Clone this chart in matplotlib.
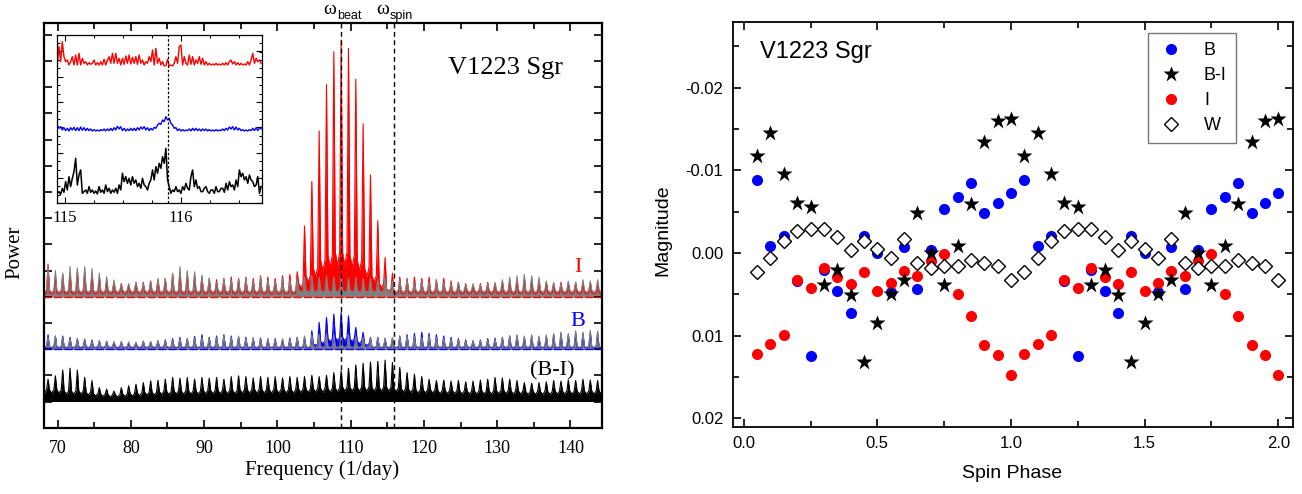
import numpy as np
import matplotlib
matplotlib.use('Agg')
import matplotlib.pyplot as plt
from matplotlib.ticker import MultipleLocator
from matplotlib.lines import Line2D

# ======================= DATA =======================
# --- left panel: periodograms (alias comb, one tooth per 1/day) ---
omega_beat = 108.7
omega_spin = 115.85
comb_freq = np.arange(68.7, 145.0, 1.0)          # alias tooth positions (77)

# I band: comparison (gray) and V1223 Sgr (red) tooth heights
I_gray = [1.2, 1.0, 0.9, 1.15, 1.1, 1.15, 1.08, 0.9, 0.76, 0.64, 0.5, 0.5, 0.57, 0.5, 0.57, 0.7, 0.7, 0.9, 1.15, 1.0, 0.95, 0.83, 0.7, 0.57, 0.64, 0.64, 0.68,
          0.7, 0.6, 0.75, 0.65, 0.6, 0.7, 0.65, 0.7, 0.75, 0.8, 0.75, 0.8, 0.75, 0.8, 0.7, 0.75, 0.7, 0.7, 0.65, 0.7, 0.6, 0.65, 0.65,
          0.55, 0.6, 0.55, 0.6, 0.55, 0.5, 0.55, 0.45, 0.5, 0.45, 0.5, 0.55, 0.65, 0.75, 0.8, 0.85, 0.8, 0.75, 0.6, 0.55, 0.5, 0.6, 0.55, 0.65, 0.6, 0.65, 0.7]
I_red = [1.25, 0.8, 0.85, 0.9, 1.0, 0.95, 0.9, 0.75, 0.6, 0.55, 0.5, 0.45, 0.5, 0.55, 0.6, 0.65, 0.7, 0.85, 0.9, 0.85, 0.8, 0.75, 0.7, 0.65, 0.7, 0.75, 0.7,
         0.75, 0.7, 0.8, 0.75, 0.7, 0.8, 0.85, 0.95, 2.7, 4.4, 6.33, 8.1, 9.35, 9.8, 9.48, 8.3, 6.6, 4.65, 2.9, 1.5, 0.9, 0.75, 0.7,
         0.75, 0.7, 0.75, 0.65, 0.7, 0.6, 0.55, 0.5, 0.45, 0.5, 0.55, 0.5, 0.55, 0.6, 0.65, 0.7, 0.65, 0.6, 0.55, 0.5, 0.55, 0.5, 0.55, 0.5, 0.55, 0.5, 0.55]
I_gray_floor = [0.25] * 77
I_red_floor = [0.15] * 34 + [0.5, 0.8, 1.1, 1.4, 1.6, 1.7, 1.7, 1.6, 1.4, 1.1, 0.8, 0.5, 0.3] + [0.15] * 30

# B band
B_gray = [0.45, 0.5, 0.45, 0.4, 0.38, 0.35, 0.3, 0.3, 0.28, 0.3, 0.25, 0.28, 0.25, 0.3, 0.28, 0.3, 0.32, 0.35, 0.4, 0.38, 0.42, 0.45, 0.4, 0.45, 0.5, 0.45, 0.5,
          0.4, 0.45, 0.38, 0.42, 0.35, 0.4, 0.38, 0.45, 0.5, 0.55, 0.57, 0.6, 0.57, 0.6, 0.55, 0.5, 0.45, 0.42, 0.45, 0.42, 0.45, 0.48, 0.5,
          0.5, 0.45, 0.5, 0.45, 0.42, 0.38, 0.35, 0.3, 0.3, 0.32, 0.35, 0.38, 0.45, 0.5, 0.55, 0.5, 0.55, 0.5, 0.55, 0.6, 0.65, 0.6, 0.7, 0.65, 0.72, 0.7, 0.76]
B_blue = [0.55, 0.5, 0.5, 0.45, 0.4, 0.38, 0.35, 0.32, 0.3, 0.25, 0.28, 0.22, 0.25, 0.3, 0.28, 0.32, 0.35, 0.4, 0.45, 0.4, 0.48, 0.55, 0.45, 0.5, 0.55, 0.5, 0.45,
          0.45, 0.4, 0.42, 0.38, 0.4, 0.35, 0.42, 0.45, 0.45, 0.7, 1.02, 1.21, 1.34, 1.4, 1.27, 0.83, 0.64, 0.45, 0.45, 0.4, 0.42, 0.5, 0.55,
          0.6, 0.64, 0.6, 0.55, 0.5, 0.45, 0.4, 0.35, 0.32, 0.35, 0.4, 0.42, 0.45, 0.5, 0.5, 0.45, 0.5, 0.45, 0.5, 0.55, 0.6, 0.55, 0.6, 0.6, 0.65, 0.6, 0.7]
B_gray_floor = [0.1] * 77
B_blue_floor = [0.08] * 36 + [0.2, 0.3, 0.4, 0.45, 0.45, 0.4, 0.3, 0.2] + [0.08] * 33

# B-I colour periodogram
BI_black = [0.85, 0.98, 1.2, 1.27, 1.2, 0.92, 0.8, 0.53, 0.47, 0.4, 0.53, 0.6, 0.66, 0.72, 0.79, 0.81, 0.85, 0.92, 0.89, 0.92, 0.85, 0.92, 0.89, 0.92, 0.85, 0.95, 0.98,
            0.95, 0.9, 0.95, 0.92, 0.95, 0.9, 0.95, 0.92, 0.95, 1.0, 0.95, 1.0, 1.1, 1.17, 1.27, 1.39, 1.46, 1.51, 1.53, 1.58, 1.49, 1.3, 1.1,
            1.04, 0.95, 0.85, 0.8, 0.82, 0.78, 0.8, 0.75, 0.78, 0.82, 0.85, 0.92, 0.9, 0.85, 0.8, 0.72, 0.7, 0.72, 0.75, 0.8, 0.78, 0.82, 0.8, 0.85, 0.82, 0.8, 0.85]
BI_floor = [0.45, 0.45, 0.4, 0.4, 0.4, 0.35, 0.3, 0.28, 0.25, 0.25, 0.28, 0.3, 0.32, 0.35, 0.35, 0.38, 0.38, 0.4, 0.4, 0.4, 0.4, 0.42, 0.42, 0.42, 0.42, 0.42, 0.45,
            0.45, 0.45, 0.45, 0.45, 0.45, 0.45, 0.45, 0.48, 0.48, 0.5, 0.5, 0.5, 0.52, 0.55, 0.55, 0.55, 0.55, 0.55, 0.55, 0.55, 0.52, 0.5, 0.48,
            0.45, 0.45, 0.45, 0.42, 0.42, 0.42, 0.4, 0.4, 0.4, 0.4, 0.4, 0.42, 0.42, 0.4, 0.4, 0.38, 0.38, 0.38, 0.38, 0.4, 0.4, 0.4, 0.4, 0.4, 0.4, 0.4, 0.4]

# vertical offsets of the three stacked periodograms
offset_I, offset_B, offset_BI = 5.0, 3.0, 1.0

# --- inset: zoom on 115-116.7 1/day ---
inset_f0, inset_f1 = 114.934, 116.692
inset_spin = 115.885
inset_I = [5, 60, 15, 75, 30, 15, 20, 5, 15, 30, 5, 35, 5, 40, 5, 25, 10, 15, 5, 12, 7, 10, 20, 5, 12, 5, 15, 5, 22, 5,
           20, 30, 10, 40, 10, 40, 10, 25, 5, 25, 7, 32, 10, 35, 8, 28, 10, 30, 7, 35, 10, 20, 5, 15, 10, 30, 15, 50, 5, 55,
           10, 25, 5, 15, 2, 3, 22, 2, 5, 2, 10, 30, 10, 60, 65, 5, 30, 10, 5, 35, 7, 30, 5, 20, 10, 30, 7, 25, 5, 15,
           5, 10, 5, 8, 5, 10, 5, 8, 5, 10, 5, 12, 5, 15, 20, 8, 15, 5, 12, 5, 10, 5, 8, 5, 15, 5, 20, 40, 10, 25,
           15, 20, 10]
inset_B = [20, 10, 15, 5, 12, 3, 10, 2, 12, 5, 13, 3, 12, 3, 14, 4, 12, 3, 10, 3, 8, 2, 6, 2, 5, 2, 6, 3, 8, 2,
           8, 3, 10, 3, 12, 5, 16, 8, 15, 3, 10, 2, 8, 3, 10, 3, 10, 3, 12, 5, 14, 8, 15, 5, 12, 3, 10, 5, 13, 10,
           20, 25, 22, 35, 30, 45, 35, 40, 25, 20, 10, 12, 3, 8, 2, 6, 2, 5, 3, 8, 2, 10, 3, 10, 3, 8, 2, 8, 3, 8,
           2, 6, 2, 5, 2, 6, 2, 5, 3, 8, 3, 10, 5, 14, 8, 15, 5, 14, 5, 10, 3, 6, 2, 5, 2, 6, 3, 10, 3, 12,
           3, 12, 8]
inset_BI = [5, 10, 2, 20, 8, 40, 15, 55, 25, 50, 70, 110, 30, 60, 75, 5, 10, 15, 5, 25, 8, 15, 5, 12, 3, 25, 8, 15, 5, 30,
            10, 20, 5, 15, 8, 20, 5, 30, 15, 65, 40, 55, 35, 50, 30, 55, 35, 45, 25, 35, 20, 50, 30, 25, 15, 35, 45, 75, 45, 85,
            65, 95, 80, 115, 95, 140, 45, 25, 5, 15, 10, 25, 10, 15, 5, 25, 15, 35, 20, 15, 55, 75, 25, 45, 20, 25, 10, 10, 20, 25,
            10, 5, 15, 15, 5, 25, 10, 10, 20, 20, 8, 35, 15, 40, 25, 30, 15, 45, 25, 75, 55, 65, 45, 55, 35, 60, 45, 40, 25, 30,
            55, 5, 25]
inset_base_I, inset_base_B, inset_base_BI = 410, 215, 25

# --- right panel: folded light curves ---
phase = np.round(np.arange(1, 41) * 0.05, 2)
mag_B = [-0.0088, -0.0009, -0.0021, 0.0034, 0.0124, 0.0021, 0.0046, 0.0073, -0.0021, 0.0000,
         0.0047, -0.0007, 0.0044, -0.0004, -0.0053, -0.0068, -0.0085, -0.0048, -0.0061, -0.0073]
mag_BI = [-0.0118, -0.0145, -0.0096, -0.0061, -0.0056, 0.0038, 0.0020, 0.0051, 0.0132, 0.0084,
          0.0049, 0.0033, -0.0048, 0.0000, 0.0038, -0.0009, -0.0060, -0.0135, -0.0160, -0.0162]
mag_I = [0.0122, 0.0110, 0.0099, 0.0032, 0.0042, 0.0018, 0.0029, 0.0037, 0.0023, 0.0046,
         0.0036, 0.0022, 0.0028, 0.0009, 0.0001, 0.0049, 0.0076, 0.0111, 0.0123, 0.0147]
mag_W = [0.0023, 0.0006, -0.0015, -0.0027, -0.0029, -0.0029, -0.0020, -0.0004, -0.0015, -0.0005,
         0.0006, -0.0017, 0.0012, 0.0018, 0.0015, 0.0015, 0.0008, 0.0012, 0.0016, 0.0032]

# ======================= STYLE =======================
SERIF = 'Liberation Serif'
SANS = 'Liberation Sans'
W, H = 1302, 494
fig = plt.figure(figsize=(W / 100, H / 100), dpi=100)


def fx(px):
    return px / W


def fy(py):
    return 1 - py / H


def comb_path(freqs, peaks, floors, base):
    xs, ys = [], []
    prev_floor = floors[0]
    for f, p, fl in zip(freqs, peaks, floors):
        xs += [f - 0.5, f - 0.2, f, f + 0.2]
        ys += [prev_floor * 0.7, prev_floor, p, fl]
        prev_floor = fl
    return np.array(xs), np.array(ys) + base


# ---------------- left panel ----------------
ax1 = fig.add_axes([fx(44), fy(427.7), fx(602 - 44), (427.7 - 22.7) / H])
ax1.set_xlim(68.15, 144.3)
ax1.set_ylim(0, 15.46)


def draw(freqs, peaks, floors, base, color, lw=0.8):
    x, y = comb_path(freqs, peaks, floors, base)
    ax1.fill_between(x, base, y, color=color, lw=0)
    ax1.plot(x, y, color=color, lw=lw)


ax1.plot([68, 145], [offset_I, offset_I], color='red', lw=1.0, ls=(0, (6, 1.5)))
draw(comb_freq, I_red, I_red_floor, offset_I, 'red')
draw(comb_freq, I_gray, I_gray_floor, offset_I, '#808080')
ax1.plot([68, 145], [offset_B, offset_B], color='blue', lw=1.0, ls=(0, (6, 1.5)))
draw(comb_freq, B_blue, B_blue_floor, offset_B, 'blue')
draw(comb_freq, B_gray, B_gray_floor, offset_B, '#808080')
draw(comb_freq, BI_black, BI_floor, offset_BI, 'black')

for fr in (omega_beat, omega_spin):
    ax1.axvline(fr, color='black', lw=1.0, ls=(0, (3.5, 2.5)), zorder=5)

ax1.xaxis.set_major_locator(MultipleLocator(10))
ax1.xaxis.set_minor_locator(MultipleLocator(5))
ax1.yaxis.set_major_locator(MultipleLocator(1))
ax1.tick_params(which='both', direction='in', top=True, right=True, width=1.2)
ax1.tick_params(which='major', length=6)
ax1.tick_params(which='minor', length=4)
ax1.tick_params(axis='y', labelleft=False)
ax1.tick_params(axis='x', labelsize=13, pad=9)
for lab in ax1.get_xticklabels():
    lab.set_fontfamily(SERIF)
for s in ax1.spines.values():
    s.set_linewidth(1.6)

fig.text(fx(506), fy(68), 'V1223 Sgr', family=SERIF, fontsize=19, ha='center', va='center')
fig.text(fx(578), fy(268), 'I', family=SERIF, fontsize=16, color='red', ha='center', va='center')
fig.text(fx(578), fy(321), 'B', family=SERIF, fontsize=16, color='blue', ha='center', va='center')
fig.text(fx(552), fy(371), '(B-I)', family=SERIF, fontsize=16, color='black', ha='center', va='center')
fig.text(fx(15), fy(252), 'Power', family=SERIF, fontsize=15, rotation=90, ha='center', va='center')
fig.text(fx(322), fy(470), 'Frequency (1/day)', family=SERIF, fontsize=15, ha='center', va='center')
fig.text(fx(330), fy(10), 'ω', family=SERIF, fontsize=14, ha='center', va='center')
fig.text(fx(349), fy(16), 'beat', family=SANS, fontsize=9, ha='center', va='center')
fig.text(fx(383), fy(10), 'ω', family=SERIF, fontsize=14, ha='center', va='center')
fig.text(fx(401), fy(16), 'spin', family=SANS, fontsize=9, ha='center', va='center')

# ---------------- inset ----------------
axi = fig.add_axes([fx(56.7), fy(203.3), fx(261.7 - 56.7), (203.3 - 35) / H])
axi.set_xlim(inset_f0 - 0.005, inset_f1 + 0.005)
axi.set_ylim(0, 505)
fi = np.linspace(inset_f0, inset_f1, len(inset_I))
axi.plot(fi, np.array(inset_I) + inset_base_I, color='red', lw=1.0)
axi.plot(fi, np.array(inset_B) + inset_base_B, color='blue', lw=1.0)
axi.plot(fi, np.array(inset_BI) + inset_base_BI, color='black', lw=1.1)
axi.axvline(inset_spin, color='black', lw=0.9, ls=(0, (2, 1.5)))
axi.xaxis.set_major_locator(MultipleLocator(1))
axi.xaxis.set_minor_locator(MultipleLocator(0.25))
axi.yaxis.set_major_locator(MultipleLocator(76))
axi.yaxis.set_minor_locator(MultipleLocator(25.3))
axi.tick_params(which='both', direction='in', top=True, right=True, width=0.8)
axi.tick_params(which='major', length=4)
axi.tick_params(which='minor', length=2.5)
axi.tick_params(axis='y', labelleft=False)
axi.tick_params(axis='x', labelsize=12, pad=5)
for lab in axi.get_xticklabels():
    lab.set_fontfamily(SERIF)
for s in axi.spines.values():
    s.set_linewidth(0.9)

# ---------------- right panel ----------------
ax2 = fig.add_axes([fx(733), fy(426.7), fx(1293 - 733), (426.7 - 21.7) / H])
ph = phase
B2 = mag_B + mag_B
BI2 = mag_BI + mag_BI
I2 = mag_I + mag_I
W2 = mag_W + mag_W
ax2.plot(ph, B2, 'o', color='blue', ms=8, mec='none')
ax2.plot(ph, I2, 'o', color='red', ms=8, mec='none')
ax2.plot(ph, BI2, '*', color='black', ms=12, mec='none')
ax2.plot(ph, W2, 'D', mfc='white', mec='black', mew=1.0, ms=7)
ax2.set_xlim(-0.04, 2.055)
ax2.set_ylim(0.021, -0.028)
ax2.xaxis.set_major_locator(MultipleLocator(0.5))
ax2.xaxis.set_minor_locator(MultipleLocator(0.25))
ax2.yaxis.set_major_locator(MultipleLocator(0.01))
ax2.yaxis.set_minor_locator(MultipleLocator(0.005))
ax2.set_xticks([0, 0.5, 1.0, 1.5, 2.0])
ax2.set_xticklabels(['0.0', '0.5', '1.0', '1.5', '2.0'])
ax2.set_yticks([-0.02, -0.01, 0.0, 0.01, 0.02])
ax2.set_yticklabels(['-0.02', '-0.01', '0.00', '0.01', '0.02'])
ax2.tick_params(which='both', direction='in', top=True, right=True, width=1.2)
ax2.tick_params(which='major', length=6)
ax2.tick_params(which='minor', length=4)
ax2.tick_params(labelsize=12, pad=7)
for lab in ax2.get_xticklabels() + ax2.get_yticklabels():
    lab.set_fontfamily(SANS)
for s in ax2.spines.values():
    s.set_linewidth(1.3)

fig.text(fx(760), fy(52), 'V1223 Sgr', family=SANS, fontsize=17, ha='left', va='center')
fig.text(fx(663), fy(230), 'Magnitude', family=SANS, fontsize=14, rotation=90, ha='center', va='center')
fig.text(fx(1012), fy(473), 'Spin Phase', family=SANS, fontsize=14, ha='center', va='center')

handles = [
    Line2D([], [], ls='none', marker='o', color='blue', ms=8, mec='none'),
    Line2D([], [], ls='none', marker='*', color='black', ms=12, mec='none'),
    Line2D([], [], ls='none', marker='o', color='red', ms=8, mec='none'),
    Line2D([], [], ls='none', marker='D', mfc='white', mec='black', mew=1.0, ms=7),
]
leg = ax2.legend(handles, ['B', 'B-I', 'I', 'W'], loc='upper left',
                 bbox_to_anchor=((1148 - 733) / 560, 1 - (33 - 21.7) / 405),
                 prop={'family': SANS, 'size': 13}, frameon=True, fancybox=False,
                 borderpad=0.5, labelspacing=0.45, handletextpad=1.0, handlelength=1.6,
                 borderaxespad=0)
leg.get_frame().set_edgecolor('#555555')
leg.get_frame().set_linewidth(1.0)

fig.savefig('out.png', dpi=100)
